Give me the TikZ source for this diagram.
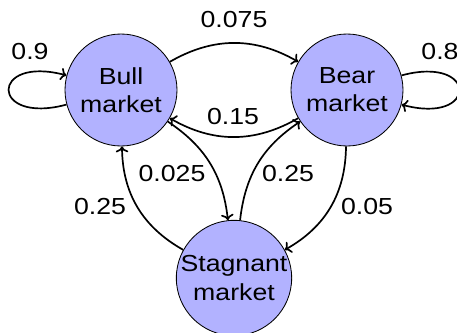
\documentclass[tikz,border=0pt]{standalone}
\usepackage{fontspec}
\setmainfont[FakeStretch=1.15]{Liberation Sans}
\usetikzlibrary{arrows.meta}

\begin{document}
\begin{tikzpicture}[every node/.style={font=\fontsize{16.5}{20}\selectfont},
    state/.style={circle, draw, line width=0.6pt, fill=blue!30, minimum size=2.8cm, inner sep=0pt, align=center},
    trans/.style={->, line width=1.2pt}]

    \useasboundingbox (0,0) rectangle (11.425,8.3);

    % States
    \node[state] (bull) at (3.025,6.05) {Bull\\market};
    \node[state] (bear) at (8.675,6.05) {Bear\\market};
    \node[state] (stag) at (5.85,1.35) {Stagnant\\market};

    % bull
    \draw[trans] (bull) to[out=195, in=165, looseness=7] (bull);
    \node (lbull) at (0.75,7.0) {0.9};

    % bear
    \draw[trans] (bear) to[out=15, in=-15, looseness=7] (bear);
    \node (lbear) at (11.0,7.0) {0.8};

    % bull to bear
    \draw[trans] (bull) to[bend left=30] (bear);
    \node (lbullbear) at (5.85,7.8) {0.075};

    % bear to bull
    \draw[trans] (bear) to[bend left=30] (bull);
    \node (lbearbull) at (5.825,5.375) {0.15};

    % bull to stagnant
    \draw[trans] (bull) to[bend left=25] (stag);
    \node (lbullstag) at (4.3,3.95) {0.025};

    % stagnant to bull
    \draw[trans] (stag) to[bend left=30] (bull);
    \node (lstagbull) at (2.5,3.125) {0.25};

    % stagnant to bear
    \draw[trans] (stag) to[bend left=25] (bear);
    \node (lstagbear) at (7.2,3.95) {0.25};

    % bear to stagnant
    \draw[trans] (bear) to[bend left=30] (stag);
    \node (lbearstag) at (9.175,3.125) {0.05};

\end{tikzpicture}
\end{document}
